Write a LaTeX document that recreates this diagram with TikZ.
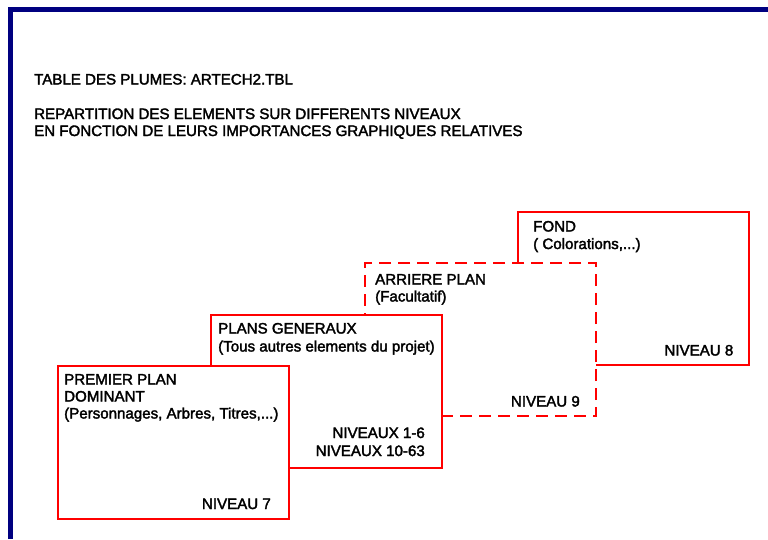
\documentclass[tikz,border=0pt]{standalone}
\usepackage{fontspec}
\setmainfont{Liberation Sans}
\newfontfamily\heavysans{Liberation Sans}[FakeBold=2.2]
\definecolor{navyb}{HTML}{000080}
\definecolor{redl}{HTML}{FF0000}
\begin{document}
\begin{tikzpicture}[x=1pt,y=-1pt,
  plane/.style={draw=redl, line width=2pt, fill=white, rectangle, inner sep=0pt,
    minimum width=231pt, minimum height=153pt, anchor=north west},
  dashplane/.style={plane, dash pattern=on 12pt off 7pt},
  txtl/.style={anchor=base west, inner sep=0pt, font=\heavysans\fontsize{15.1}{18}\selectfont},
  txtr/.style={anchor=base east, inner sep=0pt, font=\heavysans\fontsize{15.1}{18}\selectfont},
  frame/.style={draw=navyb, line width=5.5pt}]
\useasboundingbox (0,0) rectangle (768,539);
% frame
\coordinate (fb) at (10.5,539);
\coordinate (fc) at (10.5,9.5);
\coordinate (fr) at (768,9.5);
\draw[frame] (fb) -- (fc) -- (fr);
% titles
\node[txtl] (t1) at (34,84.5) {TABLE DES PLUMES: ARTECH2.TBL};
\node[txtl] (t2) at (34,119) {REPARTITION DES ELEMENTS SUR DIFFERENTS NIVEAUX};
\node[txtl] (t3) at (34,136) {EN FONCTION DE LEURS IMPORTANCES GRAPHIQUES RELATIVES};
% planes, back to front
\node[plane] (fond) at (517,211) {};
\node[txtl] (fond1) at (533,231.5) {FOND};
\node[txtl] (fond2) at (533,249) {( Colorations,...)};
\node[txtr] (fond3) at (733.5,355.5) {NIVEAU 8};

\node[dashplane] (arr) at (364,262) {};
\node[txtl] (arr1) at (375,284.5) {ARRIERE PLAN};
\node[txtl] (arr2) at (375,301.5) {(Facultatif)};
\node[txtr] (arr3) at (580,406.5) {NIVEAU 9};

\node[plane] (gen) at (210,313.5) {};
\node[txtl] (gen1) at (218,333.5) {PLANS GENERAUX};
\node[txtl] (gen2) at (218,351.5) {(Tous autres elements du projet)};
\node[txtr] (gen3) at (425,438) {NIVEAUX 1-6};
\node[txtr] (gen4) at (425,456) {NIVEAUX 10-63};

\node[plane] (prem) at (57,365) {};
\node[txtl] (prem1) at (64,384.5) {PREMIER PLAN};
\node[txtl] (prem2) at (64,401.5) {DOMINANT};
\node[txtl] (prem3) at (64,418.5) {(Personnages, Arbres, Titres,...)};
\node[txtr] (prem4) at (271,509) {NIVEAU 7};
\end{tikzpicture}
\end{document}
